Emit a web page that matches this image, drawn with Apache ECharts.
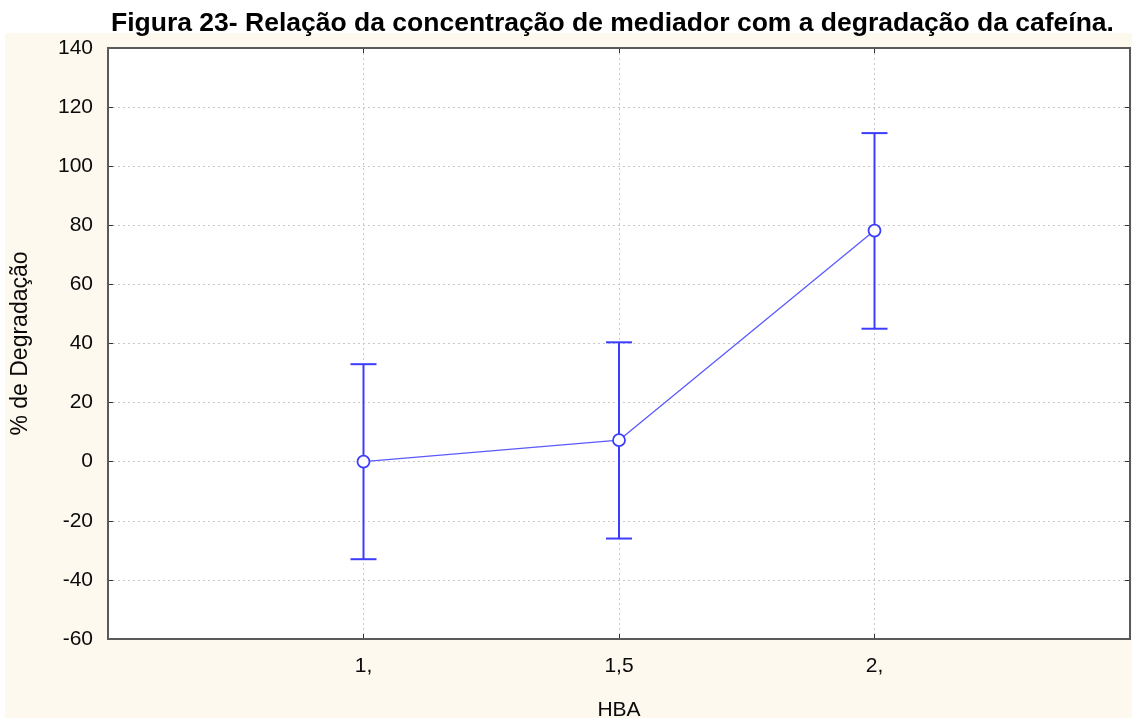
<!DOCTYPE html>
<html>
<head>
<meta charset="utf-8">
<script src="https://cdn.jsdelivr.net/npm/echarts@6/dist/echarts.min.js"></script>
<style>
  html, body { margin: 0; padding: 0; background: #ffffff; }
  #chart { width: 1132px; height: 719px; }
</style>
</head>
<body>
<div id="chart"></div>
<script>
// HBA levels and the mean degradation (%) with its interval bounds
const hbaLevels = [1, 1.5, 2];
const hbaTickLabels = ['1,', '1,5', '2,'];
const meanDegradation = [0, 7.3, 78.2];
const lowerBound = [-33, -26.0, 45.0];
const upperBound = [33, 40.4, 111.2];
const yTicks = { min: -60, max: 140, interval: 20 };

const blue = '#3c3cff';
const font = 'Liberation Sans, Arial, sans-serif';
const textColor = '#0a0a0a';

const meanPoints = hbaLevels.map((x, i) => [x, meanDegradation[i]]);
const barPoints = hbaLevels.map((x, i) => [x, lowerBound[i], upperBound[i]]);

function tickLabel(v) {
  const idx = hbaLevels.findIndex(h => Math.abs(h - v) < 1e-9);
  return idx >= 0 ? hbaTickLabels[idx] : '';
}

const gridBox = { left: 108, right: 2, top: 48, bottom: 80 };
const dotted = { color: '#c8c8c8', type: [2, 3], width: 1 };
const innerTick = { show: true, inside: true, length: 5, lineStyle: { color: '#333', width: 1 } };

const chart = echarts.init(document.getElementById('chart'), null, { renderer: 'canvas' });

chart.setOption({
  animation: false,
  backgroundColor: '#ffffff',
  textStyle: { fontFamily: font },
  title: {
    text: 'Figura 23- Relação da concentração de mediador com a degradação da cafeína.',
    left: 106,
    top: 5,
    textStyle: { fontFamily: font, fontSize: 26.5, fontWeight: 'bold', color: '#000' }
  },
  graphic: [{
    type: 'rect',
    z: -100,
    silent: true,
    shape: { x: 5, y: 33, width: 1127, height: 685 },
    style: { fill: '#fef9ee' }
  }, {
    // plot frame drawn over the dotted grid lines
    type: 'rect',
    z: 100,
    silent: true,
    shape: { x: 108, y: 48, width: 1022, height: 591 },
    style: { fill: 'none', stroke: '#5a5a5a', lineWidth: 2 }
  }],
  grid: {
    left: gridBox.left, right: gridBox.right, top: gridBox.top, bottom: gridBox.bottom,
    containLabel: false,
    outerBoundsMode: 'none',
    show: true,
    backgroundColor: '#ffffff',
    borderWidth: 0
  },
  xAxis: [{
    type: 'value',
    min: 0.5, max: 2.5, interval: 0.5,
    name: 'HBA',
    nameLocation: 'middle',
    nameGap: 61,
    nameTextStyle: { fontFamily: font, fontSize: 21, color: textColor },
    axisLine: { show: false, onZero: false },
    axisTick: innerTick,
    axisLabel: { formatter: tickLabel, fontFamily: font, fontSize: 21, color: textColor, margin: 17 },
    splitLine: { show: true, showMinLine: false, showMaxLine: false, lineStyle: dotted }
  }, {
    type: 'value',
    position: 'top',
    min: 0.5, max: 2.5, interval: 0.5,
    axisLine: { show: false, onZero: false },
    axisTick: innerTick,
    axisLabel: { show: false },
    splitLine: { show: false }
  }],
  yAxis: [{
    type: 'value',
    min: yTicks.min, max: yTicks.max, interval: yTicks.interval,
    name: '% de Degradação',
    nameLocation: 'middle',
    nameGap: 76,
    nameRotate: 90,
    nameTextStyle: { fontFamily: font, fontSize: 23, color: textColor },
    axisLine: { show: false, onZero: false },
    axisTick: innerTick,
    axisLabel: { fontFamily: font, fontSize: 21, color: textColor, margin: 15 },
    splitLine: { show: true, showMinLine: false, showMaxLine: false, lineStyle: dotted }
  }, {
    type: 'value',
    position: 'right',
    min: yTicks.min, max: yTicks.max, interval: yTicks.interval,
    axisLine: { show: false, onZero: false },
    axisTick: innerTick,
    axisLabel: { show: false },
    splitLine: { show: false }
  }],
  series: [{
    type: 'custom',
    name: 'intervalo',
    xAxisIndex: 0, yAxisIndex: 0,
    data: barPoints,
    z: 3,
    renderItem: function (params, api) {
      const x = api.value(0);
      const lo = api.coord([x, api.value(1)]);
      const hi = api.coord([x, api.value(2)]);
      const half = 13;
      const style = { stroke: blue, lineWidth: 2 };
      return {
        type: 'group',
        children: [
          { type: 'line', shape: { x1: lo[0], y1: lo[1], x2: hi[0], y2: hi[1] }, style: style },
          { type: 'line', shape: { x1: hi[0] - half, y1: hi[1], x2: hi[0] + half, y2: hi[1] }, style: style },
          { type: 'line', shape: { x1: lo[0] - half, y1: lo[1], x2: lo[0] + half, y2: lo[1] }, style: style }
        ]
      };
    }
  }, {
    type: 'line',
    name: 'média',
    xAxisIndex: 0, yAxisIndex: 0,
    data: meanPoints,
    z: 5,
    symbol: 'circle',
    symbolSize: 12,
    showSymbol: true,
    lineStyle: { color: '#5a5aff', width: 1.3 },
    itemStyle: { color: '#ffffff', borderColor: blue, borderWidth: 1.8 }
  }]
});
</script>
</body>
</html>
